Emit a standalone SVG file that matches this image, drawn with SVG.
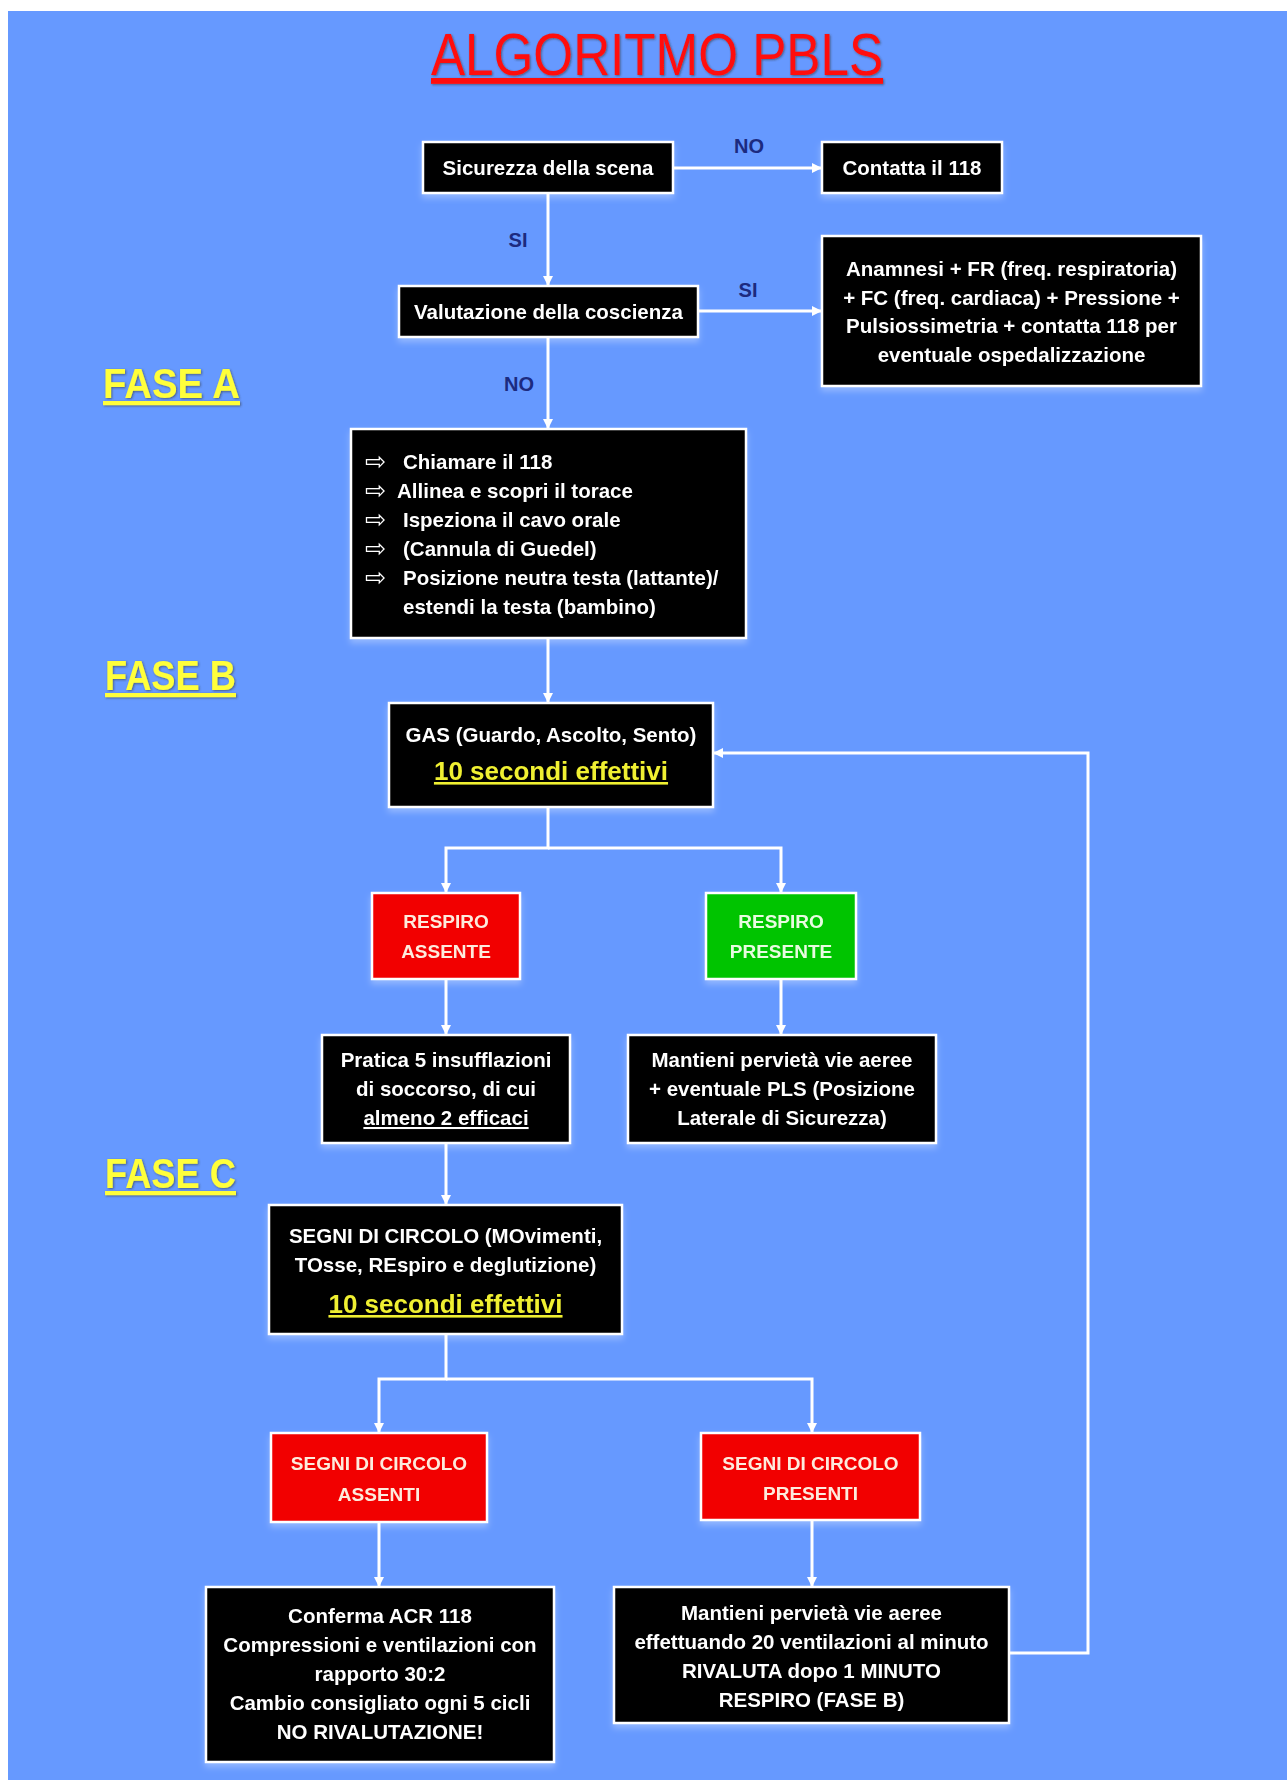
<svg xmlns="http://www.w3.org/2000/svg" width="1287" height="1780" viewBox="0 0 1287 1780">
<defs>
<style>
.t{font-family:"Liberation Sans",Arial,sans-serif;font-weight:bold;font-size:20.5px;fill:#fff;text-anchor:middle}
.tl{text-anchor:start}
.box{fill:#000;stroke:#fff;stroke-width:2.5}
.red{fill:#F20000;stroke:#fff;stroke-width:2.5}
.green{fill:#00C400;stroke:#fff;stroke-width:2.5}
.rt{font-size:19px;fill:#FDEBDD}
.gt{font-size:19px;fill:#E8FBE0}
.yl{font-size:26px;fill:#F0F030;text-decoration:underline}
.lbl{font-size:20px;fill:#1C2A80}
.arr{font-family:"DejaVu Sans",sans-serif;font-size:25px;fill:#fff}
.fase{font-family:"Liberation Sans",Arial,sans-serif;font-weight:bold;font-size:42px;fill:#FFFF3A;text-decoration:underline}
.conn{stroke:#fff;stroke-width:3;fill:none}
</style>
<marker id="ah" markerWidth="10" markerHeight="10" refX="9" refY="5" orient="auto" markerUnits="userSpaceOnUse"><path d="M0,0 L10,5 L0,10 z" fill="#fff"/></marker>
<filter id="sh" x="-10%" y="-10%" width="120%" height="130%"><feDropShadow dx="0" dy="4" stdDeviation="3" flood-color="#ffffff" flood-opacity="0.3"/></filter>
<filter id="ts" x="-5%" y="-10%" width="110%" height="130%"><feDropShadow dx="1" dy="1" stdDeviation="0.8" flood-color="#333333" flood-opacity="0.6"/></filter>
</defs>
<rect x="0" y="0" width="1287" height="1780" fill="#ffffff"/>
<rect x="8" y="11" width="1279" height="1769" fill="#6699FF"/>

<g id="title" filter="url(#ts)">
<text x="657" y="75" font-family="Liberation Sans, Arial, sans-serif" font-size="58.7" fill="#FF1010" text-anchor="middle" textLength="452" lengthAdjust="spacingAndGlyphs" text-decoration="underline">ALGORITMO PBLS</text>
</g>

<g id="fase-labels" filter="url(#ts)">
<text class="fase" x="103" y="398" textLength="137" lengthAdjust="spacingAndGlyphs">FASE A</text>
<text class="fase" x="105" y="690" textLength="131" lengthAdjust="spacingAndGlyphs">FASE B</text>
<text class="fase" x="105" y="1188" textLength="131" lengthAdjust="spacingAndGlyphs">FASE C</text>
</g>

<g id="connectors">
<path class="conn" d="M548,193 V285" marker-end="url(#ah)"/>
<path class="conn" d="M673,168 H821" marker-end="url(#ah)"/>
<path class="conn" d="M698,311 H821" marker-end="url(#ah)"/>
<path class="conn" d="M548,337 V428" marker-end="url(#ah)"/>
<path class="conn" d="M548,638 V702" marker-end="url(#ah)"/>
<path class="conn" d="M548,807 V848 H446 V892" marker-end="url(#ah)"/>
<path class="conn" d="M548,848 H781 V892" marker-end="url(#ah)"/>
<path class="conn" d="M446,979 V1034" marker-end="url(#ah)"/>
<path class="conn" d="M781,979 V1034" marker-end="url(#ah)"/>
<path class="conn" d="M446,1143 V1204" marker-end="url(#ah)"/>
<path class="conn" d="M446,1334 V1379 H379 V1432" marker-end="url(#ah)"/>
<path class="conn" d="M446,1379 H812 V1432" marker-end="url(#ah)"/>
<path class="conn" d="M379,1522 V1586" marker-end="url(#ah)"/>
<path class="conn" d="M812,1520 V1586" marker-end="url(#ah)"/>
<path class="conn" d="M1009,1653 H1088 V753 H714" marker-end="url(#ah)"/>
<g id="edge-labels">
<text class="t lbl" x="749" y="153">NO</text>
<text class="t lbl" x="518" y="247">SI</text>
<text class="t lbl" x="748" y="297">SI</text>
<text class="t lbl" x="519" y="391">NO</text>
</g>
</g>

<g id="n-sicurezza" filter="url(#sh)">
<rect class="box" x="423" y="142" width="250" height="51"/>
<text class="t" x="548" y="175">Sicurezza della scena</text>
</g>

<g id="n-contatta" filter="url(#sh)">
<rect class="box" x="822" y="142" width="180" height="51"/>
<text class="t" x="912" y="175">Contatta il 118</text>
</g>

<g id="n-valutazione" filter="url(#sh)">
<rect class="box" x="399" y="286" width="299" height="51"/>
<text class="t" x="548.5" y="319">Valutazione della coscienza</text>
</g>

<g id="n-anamnesi" filter="url(#sh)">
<rect class="box" x="822" y="236" width="379" height="150"/>
<text class="t" x="1011.5" y="276">Anamnesi + FR (freq. respiratoria)</text>
<text class="t" x="1011.5" y="304.5">+ FC (freq. cardiaca) + Pressione +</text>
<text class="t" x="1011.5" y="333">Pulsiossimetria + contatta 118 per</text>
<text class="t" x="1011.5" y="361.5">eventuale ospedalizzazione</text>
</g>

<g id="n-chiamare" filter="url(#sh)">
<rect class="box" x="351" y="429" width="395" height="209"/>
<text class="arr" x="365" y="470">⇨</text>
<text class="arr" x="365" y="499">⇨</text>
<text class="arr" x="365" y="528">⇨</text>
<text class="arr" x="365" y="557">⇨</text>
<text class="arr" x="365" y="586">⇨</text>
<text class="t tl" x="403" y="469">Chiamare il 118</text>
<text class="t tl" x="397" y="498">Allinea e scopri il torace</text>
<text class="t tl" x="403" y="527">Ispeziona il cavo orale</text>
<text class="t tl" x="403" y="556">(Cannula di Guedel)</text>
<text class="t tl" x="403" y="585">Posizione neutra testa (lattante)/</text>
<text class="t tl" x="403" y="614">estendi la testa (bambino)</text>
</g>

<g id="n-gas" filter="url(#sh)">
<rect class="box" x="389" y="703" width="324" height="104"/>
<text class="t" x="551" y="742">GAS (Guardo, Ascolto, Sento)</text>
<text class="t yl" x="551" y="780">10 secondi effettivi</text>
</g>

<g id="n-respiro-assente" filter="url(#sh)">
<rect class="red" x="372" y="893" width="148" height="86"/>
<text class="t rt" x="446" y="928">RESPIRO</text>
<text class="t rt" x="446" y="958">ASSENTE</text>
</g>

<g id="n-respiro-presente" filter="url(#sh)">
<rect class="green" x="706" y="893" width="150" height="86"/>
<text class="t gt" x="781" y="928">RESPIRO</text>
<text class="t gt" x="781" y="958">PRESENTE</text>
</g>

<g id="n-pratica" filter="url(#sh)">
<rect class="box" x="322" y="1035" width="248" height="108"/>
<text class="t" x="446" y="1067">Pratica 5 insufflazioni</text>
<text class="t" x="446" y="1096">di soccorso, di cui</text>
<text class="t" x="446" y="1125" text-decoration="underline">almeno 2 efficaci</text>
</g>

<g id="n-mantieni-pls" filter="url(#sh)">
<rect class="box" x="628" y="1035" width="308" height="108"/>
<text class="t" x="782" y="1067">Mantieni pervietà vie aeree</text>
<text class="t" x="782" y="1096">+ eventuale PLS (Posizione</text>
<text class="t" x="782" y="1125">Laterale di Sicurezza)</text>
</g>

<g id="n-segni" filter="url(#sh)">
<rect class="box" x="269" y="1205" width="353" height="129"/>
<text class="t" x="445.5" y="1243">SEGNI DI CIRCOLO (MOvimenti,</text>
<text class="t" x="445.5" y="1272">TOsse, REspiro e deglutizione)</text>
<text class="t yl" x="445.5" y="1313">10 secondi effettivi</text>
</g>

<g id="n-segni-assenti" filter="url(#sh)">
<rect class="red" x="271" y="1433" width="216" height="89"/>
<text class="t rt" x="379" y="1470">SEGNI DI CIRCOLO</text>
<text class="t rt" x="379" y="1501">ASSENTI</text>
</g>

<g id="n-segni-presenti" filter="url(#sh)">
<rect class="red" x="701" y="1433" width="219" height="87"/>
<text class="t rt" x="810.5" y="1470">SEGNI DI CIRCOLO</text>
<text class="t rt" x="810.5" y="1500">PRESENTI</text>
</g>

<g id="n-conferma" filter="url(#sh)">
<rect class="box" x="206" y="1587" width="348" height="175"/>
<text class="t" x="380" y="1623">Conferma ACR 118</text>
<text class="t" x="380" y="1652">Compressioni e ventilazioni con</text>
<text class="t" x="380" y="1681">rapporto 30:2</text>
<text class="t" x="380" y="1710">Cambio consigliato ogni 5 cicli</text>
<text class="t" x="380" y="1739">NO RIVALUTAZIONE!</text>
</g>

<g id="n-mantieni-rivaluta" filter="url(#sh)">
<rect class="box" x="614" y="1587" width="395" height="136"/>
<text class="t" x="811.5" y="1620">Mantieni pervietà vie aeree</text>
<text class="t" x="811.5" y="1649">effettuando 20 ventilazioni al minuto</text>
<text class="t" x="811.5" y="1678">RIVALUTA dopo 1 MINUTO</text>
<text class="t" x="811.5" y="1707">RESPIRO (FASE B)</text>
</g>
</svg>
